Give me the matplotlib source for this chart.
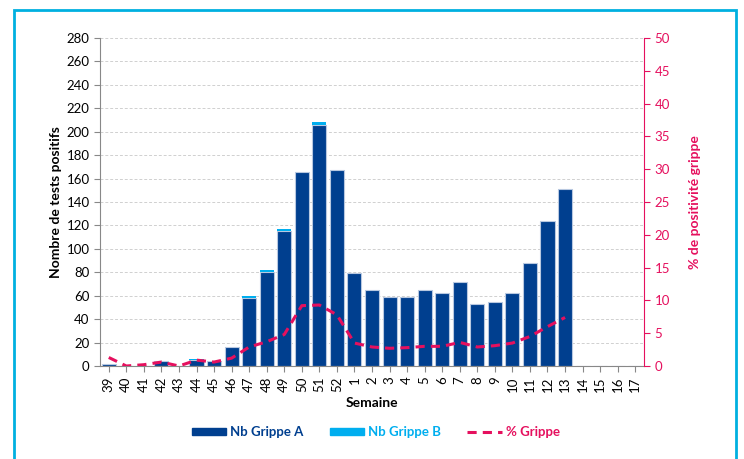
import matplotlib.pyplot as plt
from matplotlib.patches import Rectangle
from matplotlib.lines import Line2D
from matplotlib.patches import Patch

plt.rcParams['font.family'] = ['Lato', 'DejaVu Sans']

weeks = ['39', '40', '41', '42', '43', '44', '45', '46', '47', '48', '49', '50', '51', '52',
         '1', '2', '3', '4', '5', '6', '7', '8', '9', '10', '11', '12', '13',
         '14', '15', '16', '17']
grippe_a = [2, 0, 0, 4, 0, 5, 4, 16, 58, 80, 115, 166, 206, 167,
            79, 65, 59, 59, 65, 62, 72, 53, 55, 62, 88, 124, 151,
            0, 0, 0, 0]
grippe_b = [0, 0, 0, 0, 0, 1, 0, 0, 2, 2, 2, 0, 2, 0,
            0, 0, 0, 0, 0, 0, 0, 0, 0, 0, 0, 0, 0,
            0, 0, 0, 0]
pct_grippe = [1.3, 0.0, 0.2, 0.6, 0.0, 0.9, 0.6, 1.2, 2.9, 3.7, 4.8, 9.2, 9.3, 7.8,
              3.5, 2.9, 2.7, 2.8, 3.0, 3.0, 3.6, 2.9, 3.1, 3.5, 4.5, 6.0, 7.4]

dark_blue = '#003F8F'
light_blue = '#00AEEF'
pink = '#E5105E'

fig = plt.figure(figsize=(7.44, 4.59), dpi=100)
ax = fig.add_axes([0.1344, 0.2026, 0.7312, 0.7146])
ax2 = ax.twinx()

x = list(range(len(weeks)))
ax.bar(x, grippe_a, width=0.8, color=dark_blue, edgecolor='#B8C8E0', linewidth=0.8, zorder=2)
ax.bar(x, grippe_b, bottom=grippe_a, width=0.8, color=light_blue, linewidth=0, zorder=2)

ax2.plot(x[:len(pct_grippe)], pct_grippe, color=pink, linestyle=(0, (3, 2)), linewidth=2.2)

ax.set_xlim(-0.5, len(weeks) - 0.5)
ax.set_ylim(0, 280)
ax.set_yticks(range(0, 281, 20))
ax2.set_ylim(0, 50)
ax2.set_yticks(range(0, 51, 5))

ax.set_xticks(x)
ax.set_xticklabels(weeks, rotation=90, fontsize=9.5)
ax.tick_params(axis='y', labelsize=9.5, length=4, color='#888888')
ax.tick_params(axis='x', length=4, color='#888888')
ax2.tick_params(axis='y', labelsize=9.5, colors=pink, length=4)

ax.yaxis.grid(True, linestyle=(0, (3, 2)), color='#D0D0D0', linewidth=0.7)
ax.set_axisbelow(True)

for side in ['top', 'right']:
    ax.spines[side].set_visible(False)
ax.spines['left'].set_color('#888888')
ax.spines['bottom'].set_color('#888888')
ax2.spines['top'].set_visible(False)
ax2.spines['left'].set_visible(False)
ax2.spines['bottom'].set_visible(False)
ax2.spines['right'].set_color(pink)

ax.set_xlabel('Semaine', fontsize=10, fontweight='bold', labelpad=4)
ax.set_ylabel('Nombre de tests positifs', fontsize=10, fontweight='bold', labelpad=3)
ax2.set_ylabel('% de positivité grippe', fontsize=10, fontweight='bold', color=pink, labelpad=14)

handles = [Patch(color=dark_blue), Patch(color=light_blue),
           Line2D([0], [0], color=pink, linestyle=(0, (3, 2)), linewidth=2.2)]
leg = fig.legend(handles, ['Nb Grippe A', 'Nb Grippe B', '% Grippe'],
                 loc='center', bbox_to_anchor=(0.505, 0.058), ncol=3, frameon=False,
                 handlelength=2.6, handleheight=0.5, handletextpad=0.3, columnspacing=2.0,
                 prop={'weight': 'bold', 'size': 9.5})
for txt, col in zip(leg.get_texts(), [dark_blue, light_blue, pink]):
    txt.set_color(col)

fig.patches.append(Rectangle((14 / 744, -0.05), 722 / 744, 1 - 10 / 459 + 0.05,
                             transform=fig.transFigure, fill=False,
                             edgecolor='#00B0E0', linewidth=2))

fig.savefig('out.png', dpi=100)
